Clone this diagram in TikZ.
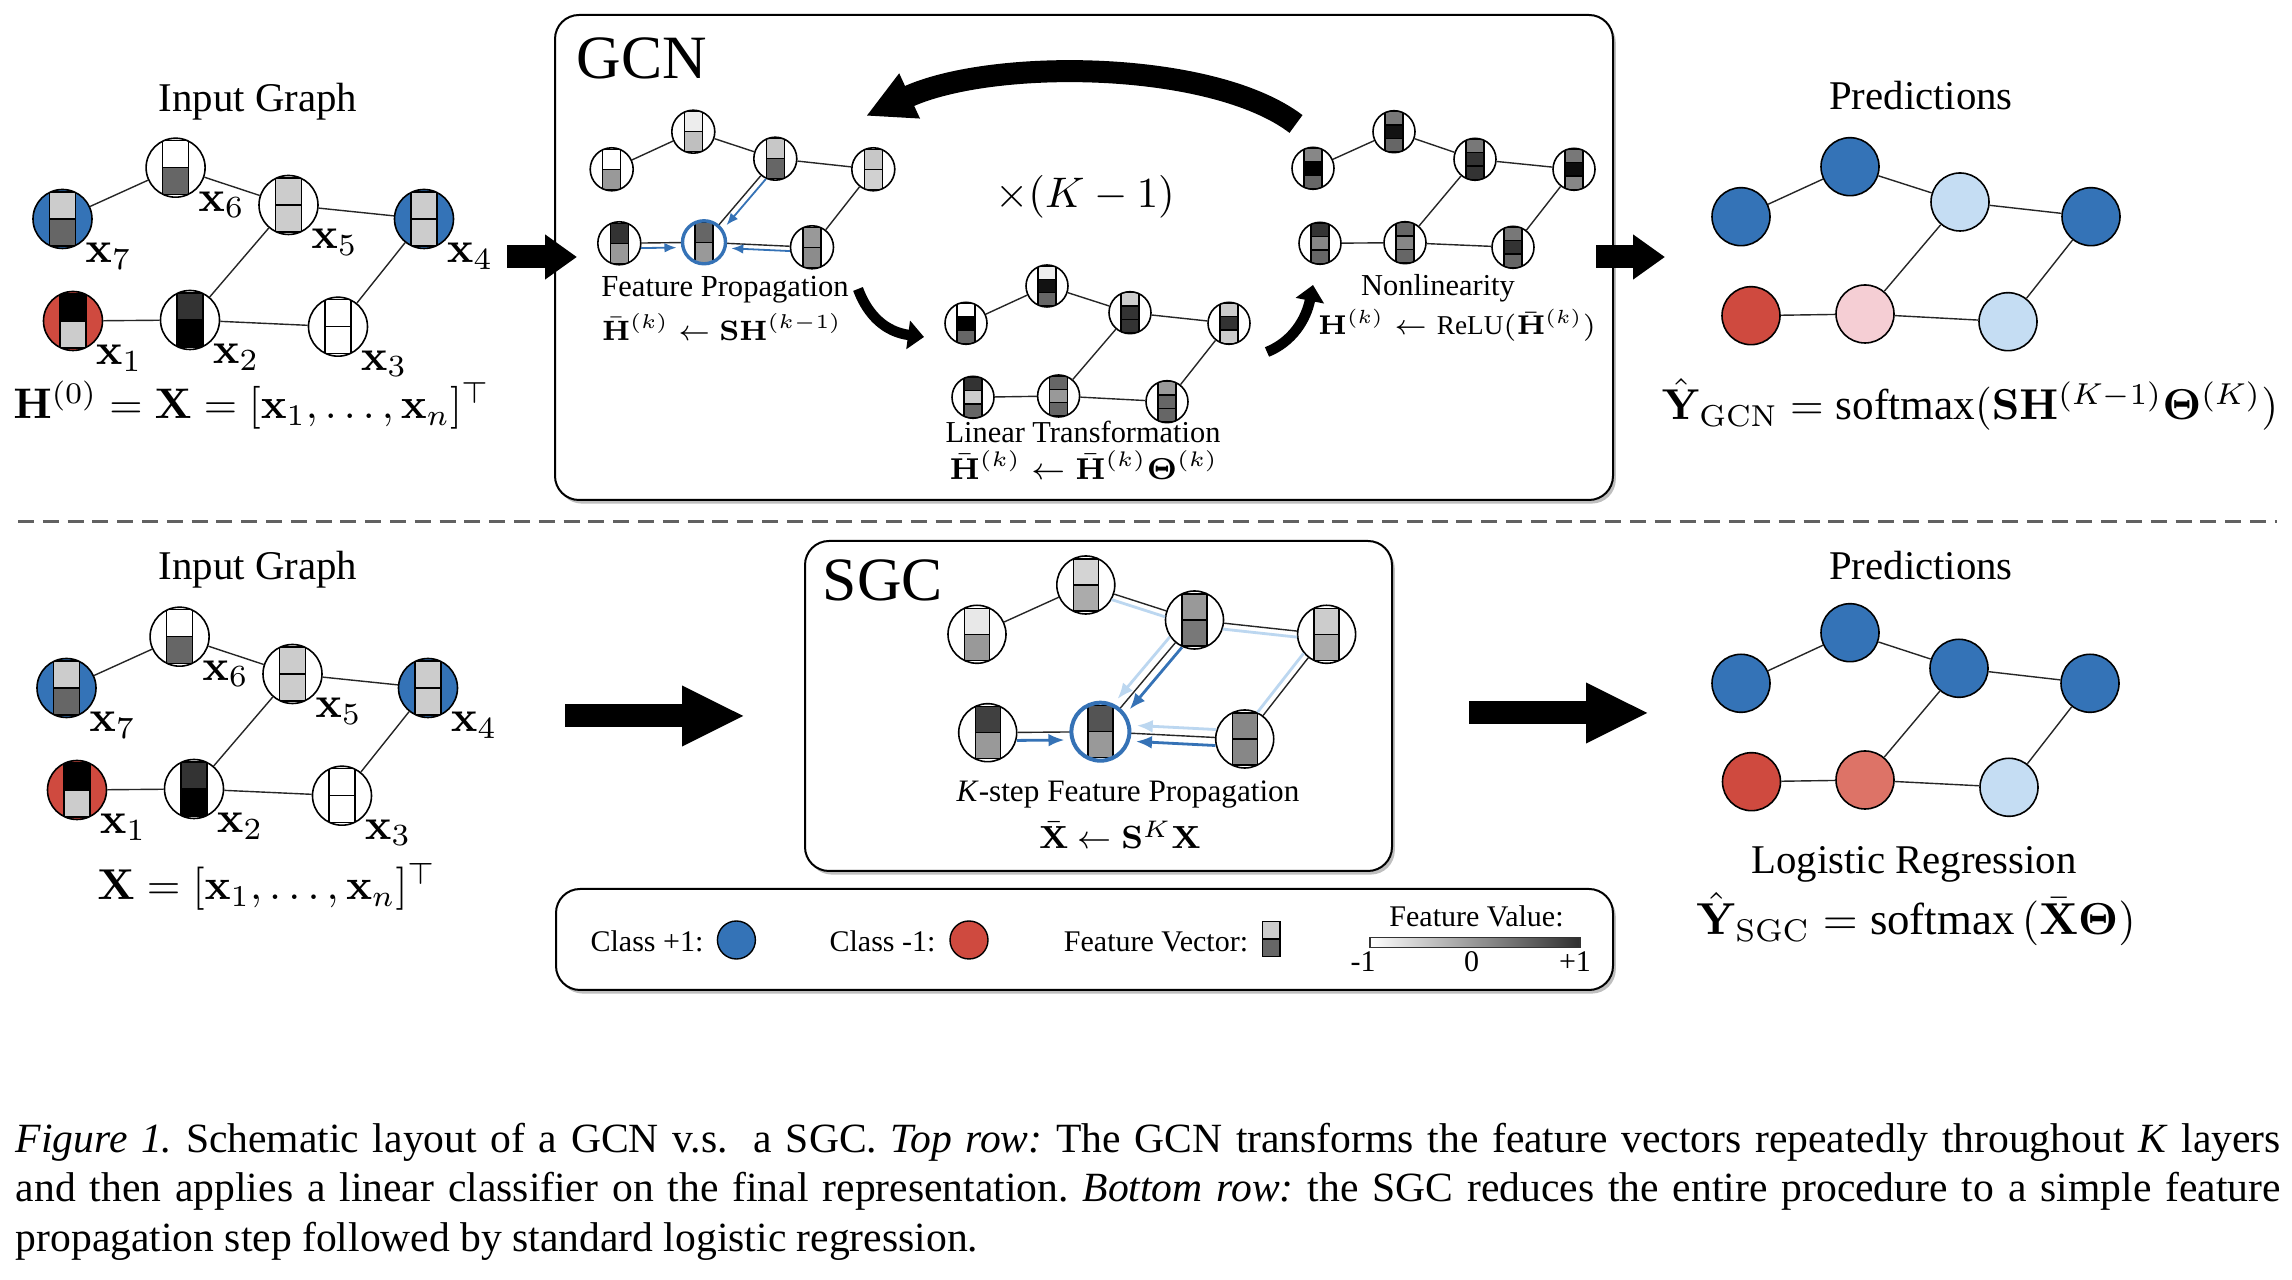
\RequirePackage{fix-cm}
\documentclass[tikz,border=0pt]{standalone}
\usepackage[no-math]{fontspec}
\setmainfont{Liberation Serif}
\usetikzlibrary{calc,arrows.meta,shadows}

\definecolor{cblue}{RGB}{52,115,183}
\definecolor{cred}{RGB}{207,74,63}
\definecolor{clblue}{RGB}{197,221,243}
\definecolor{cpink}{RGB}{245,206,212}
\definecolor{csalmon}{RGB}{221,115,103}
\definecolor{ablue}{RGB}{53,114,182}
\definecolor{alblue}{RGB}{188,215,240}

% feature node: #1 name, #2 x, #3 y, #4 radius(px), #5 fill, #6 bar w, #7 bar h, #8 cell colours
\newcommand\fnode[8]{%
  \pgfmathsetlengthmacro\fdiam{0.5*(#4)}%
  \node[circle,inner sep=0pt,minimum size=\fdiam,fill=#5] (#1) at (#2,#3) {};
  \begin{scope}
    \clip (#2,#3) circle[radius=#4];
    \foreach \cc [count=\ii] in {#8} {\xdef\ncell{\ii}}
    \foreach \cc [count=\ii] in {#8} {
      \filldraw[fill=\cc,draw=black,line width=0.35pt]
        ({#2-#6/2},{#3-#7/2+(\ii-1)*#7/\ncell}) rectangle ({#2+#6/2},{#3-#7/2+\ii*#7/\ncell});
    }
  \end{scope}
  \draw[line width=0.4pt] (#2,#3) circle[radius=#4];
}

\newcommand\ingraph[3]{%
  \fnode{#1x7}{62.5+#2}{219+#3}{29.5}{cblue}{26}{54}{black!20,black!60}
  \fnode{#1x6}{175.6+#2}{167.7+#3}{29.5}{white}{26}{54}{white,black!60}
  \fnode{#1x5}{288.5+#2}{205+#3}{29.5}{white}{26}{54}{black!20,black!20}
  \fnode{#1x4}{424+#2}{219+#3}{29.5}{cblue}{26}{54}{black!20,black!20}
  \fnode{#1x1}{73+#2}{321+#3}{29.5}{cred}{26}{54}{black,black!20}
  \fnode{#1x2}{190+#2}{320+#3}{29.5}{white}{26}{54}{black!80,black}
  \fnode{#1x3}{338+#2}{326.7+#3}{29.5}{white}{26}{54}{white,white}
  \draw[gedge] (#1x7)--(#1x6) (#1x6)--(#1x5) (#1x5)--(#1x4) (#1x5)--(#1x2)
              (#1x4)--(#1x3) (#1x1)--(#1x2) (#1x2)--(#1x3);
  \foreach \k in {1,...,7} {\node[xlbl] (#1l\k) at ($(#1x\k)+(46,37)$) {$\mathbf{x}_{\k}$};}
}

\begin{document}
\begin{tikzpicture}[x=0.25pt,y=-0.25pt,
  gedge/.style={line width=0.35pt,draw=black!85},
  pcirc/.style={circle,inner sep=0pt,minimum size=14.5pt,draw=black,line width=0.4pt},
  legc/.style={circle,inner sep=0pt,minimum size=9.5pt,draw=black,line width=0.35pt},
  xlbl/.style={font=\fontsize{11}{13}\selectfont,inner sep=0pt},
  ttl/.style={font=\fontsize{10.2}{12}\selectfont,inner sep=0pt,anchor=base},
  bigm/.style={font=\fontsize{10.8}{13}\selectfont,inner sep=0pt,anchor=base},
  hdr/.style={font=\fontsize{15.4}{18}\selectfont,inner sep=0pt,anchor=base west},
  fpt/.style={font=\fontsize{7.65}{9}\selectfont,inner sep=0pt,anchor=base},
  smt/.style={font=\fontsize{7.6}{9}\selectfont,inner sep=0pt,anchor=base},
  smm/.style={font=\fontsize{8}{10}\selectfont,inner sep=0pt,anchor=base},
  legt/.style={font=\fontsize{7.5}{9}\selectfont,inner sep=0pt,anchor=base},
  captxt/.style={font=\fontsize{10.4}{12}\selectfont\frenchspacing,inner sep=0pt,anchor=base west},
  panel/.style={draw=black,line width=0.5pt,fill=white,rounded corners=6pt,
    drop shadow={shadow xshift=0.7pt,shadow yshift=-0.9pt,opacity=0.25,fill=black}},
  barrow/.style={draw=ablue,line width=0.45pt,-{Latex[length=3pt,width=2.4pt]}},
  sarrow/.style={draw=ablue,line width=0.7pt,-{Latex[length=4pt,width=3.2pt]}},
  larrow/.style={draw=alblue,line width=0.7pt,-{Latex[length=4pt,width=3.2pt]}},
  lline/.style={draw=alblue,line width=0.7pt},
  bigarr/.style={line width=5.75pt,-{Triangle[length=8pt,width=10.75pt]}},
  bigarrb/.style={line width=5.75pt,-{Triangle[length=15.75pt,width=14pt]}},
  curv/.style={line width=2.6pt,-{Triangle[length=4pt,width=7pt]}}
]
\useasboundingbox (0,0) rectangle (2292,1280);
\fill[white] (0,0) rectangle (2292,1280);

% panels
\draw[panel] (555,15) rectangle (1613,500);
\draw[panel] (805,541) rectangle (1392,871);
\draw[panel] (556,889) rectangle (1613,990);

% separator
\draw[black!62,line width=0.6pt,dash pattern=on 4pt off 2.2pt] (18,521.5) -- (2277,521.5);

% ---------------- input graphs
\node[ttl] (tin1) at (258,111.7) {Input Graph};
\ingraph{u}{0}{0}
\node[bigm,font=\fontsize{10.7}{13}\selectfont] (eqH) at (252,419) {$\mathbf{H}^{(0)}=\mathbf{X}=[\mathbf{x}_1,\ldots,\mathbf{x}_n]^\top$};

\node[ttl] (tin2) at (258,580) {Input Graph};
\ingraph{d}{4}{469}
\node[bigm] (eqX) at (267,900) {$\mathbf{X}=[\mathbf{x}_1,\ldots,\mathbf{x}_n]^\top$};

% ---------------- GCN panel
\node[hdr] (tgcn) at (576,78.3) {GCN};

% feature propagation graph
\fnode{fA}{611.7}{169.3}{21.5}{white}{18}{40}{white,black!40}
\fnode{fB}{693.3}{131.7}{21.5}{white}{18}{40}{black!7,black!25}
\fnode{fC}{775.3}{158.7}{21.5}{white}{18}{40}{black!22,black!60}
\fnode{fD}{873.3}{169.3}{21.5}{white}{18}{40}{black!22,black!18}
\fnode{fE}{619.3}{243.3}{21.5}{white}{18}{40}{black!80,black!40}
\fnode{fF}{704}{242.3}{21.5}{white}{18}{40}{black!60,black!40}
\fnode{fG}{812}{247.3}{21.5}{white}{18}{40}{black!40,black!45}
\draw[gedge] (fA)--(fB) (fB)--(fC) (fC)--(fD) (fC)--(fF) (fD)--(fG) (fE)--(fF) (fF)--(fG);
\draw[ablue,line width=0.85pt] (fF.center) circle[radius=21.5];
\draw[barrow] ($(fE)!5.4pt!(fF)!1.25pt!-90:(fF)$) -- ($(fF)!6.9pt!(fE)!1.25pt!90:(fE)$);
\draw[barrow] ($(fG)!5.4pt!(fF)!1.2pt!90:(fF)$) -- ($(fF)!6.9pt!(fG)!1.2pt!-90:(fG)$);
\draw[barrow] ($(fC)!5.4pt!(fF)!1.5pt!90:(fF)$) -- ($(fF)!6.9pt!(fC)!1.5pt!-90:(fC)$);
\node[fpt] (tfp) at (725,297) {Feature Propagation};
\node[fpt,font=\fontsize{7}{9}\selectfont] (efp) at (722,341) {$\bar{\mathbf{H}}^{(k)}\leftarrow\mathbf{S}\mathbf{H}^{(k-1)}$};

% linear transformation graph
\fnode{lA}{966}{323.3}{21}{white}{18}{40}{white,black,black!60}
\fnode{lB}{1047}{286}{21}{white}{18}{40}{black!7,black!93,black!60}
\fnode{lC}{1130}{312.7}{21}{white}{18}{40}{black!20,black!80,black!80}
\fnode{lD}{1229}{323.3}{21}{white}{18}{40}{black!20,black!80,black!20}
\fnode{lE}{973}{397.3}{21}{white}{18}{40}{black!80,black!20,black!60}
\fnode{lF}{1058.6}{396}{21}{white}{18}{40}{black!60,black!40,black!60}
\fnode{lG}{1167}{401.7}{21}{white}{18}{40}{black!40,black!60,black!60}
\draw[gedge] (lA)--(lB) (lB)--(lC) (lC)--(lD) (lC)--(lF) (lD)--(lG) (lE)--(lF) (lF)--(lG);
\node[smt] (tlt) at (1083,443) {Linear Transformation};
\node[smm,font=\fontsize{7.55}{9}\selectfont] (elt) at (1084,479.5) {$\bar{\mathbf{H}}^{(k)}\leftarrow\bar{\mathbf{H}}^{(k)}\mathbf{\Theta}^{(k)}$};

% nonlinearity graph
\fnode{nA}{1313}{168.3}{21}{white}{18}{40}{black!47,black,black!60}
\fnode{nB}{1394}{131.7}{21}{white}{18}{40}{black!53,black!93,black!60}
\fnode{nC}{1475}{159.3}{21}{white}{18}{40}{black!53,black!80,black!80}
\fnode{nD}{1574}{169.3}{21}{white}{18}{40}{black!53,black!95,black!47}
\fnode{nE}{1320}{243.3}{21}{white}{18}{40}{black!80,black!47,black!60}
\fnode{nF}{1405}{242.7}{21}{white}{18}{40}{black!60,black!47,black!60}
\fnode{nG}{1513}{247.3}{21}{white}{18}{40}{black!53,black!80,black!60}
\draw[gedge] (nA)--(nB) (nB)--(nC) (nC)--(nD) (nC)--(nF) (nD)--(nG) (nE)--(nF) (nF)--(nG);
\node[smt] (tnl) at (1438,295.5) {Nonlinearity};
\node[smt,font=\fontsize{6.8}{8}\selectfont] (enl) at (1457,335) {$\mathbf{H}^{(k)}\leftarrow\textrm{ReLU}(\bar{\mathbf{H}}^{(k)})$};

\node[font=\fontsize{10.7}{13}\selectfont,inner sep=0pt] (tk) at (1085,197) {$\times(K-1)$};

% curved arrows
\coordinate (arcS) at (1296,124);
\coordinate (arcE) at (866,116);
\draw[line width=5.5pt,-{Triangle[length=12pt,width=11.5pt]}] (arcS) .. controls (1212,60) and (992,58) .. (arcE);
\coordinate (c1s) at (858,289);
\coordinate (c1e) at (924,337);
\draw[curv] (c1s) .. controls (868,316) and (886,332) .. (c1e);
\coordinate (c2s) at (1267,352);
\coordinate (c2e) at (1313,285);
\draw[curv] (c2s) .. controls (1292,342) and (1306,320) .. (c2e);

% straight arrows top
\coordinate (a1s) at (507,257);
\coordinate (a1e) at (577,257);
\draw[bigarr] (a1s) -- (a1e);
\coordinate (a2s) at (1596,257);
\coordinate (a2e) at (1665,257);
\draw[bigarr] (a2s) -- (a2e);

% ---------------- GCN predictions
\node[ttl] (tpr1) at (1921,110) {Predictions};
\node[pcirc,fill=cblue] (pA) at (1741,216.7) {};
\node[pcirc,fill=cblue] (pB) at (1850,166.7) {};
\node[pcirc,fill=clblue] (pC) at (1960,202) {};
\node[pcirc,fill=cblue] (pD) at (2091,216.7) {};
\node[pcirc,fill=cred] (pE) at (1751,315.7) {};
\node[pcirc,fill=cpink] (pF) at (1865,314) {};
\node[pcirc,fill=clblue] (pG) at (2008,321.7) {};
\draw[gedge] (pA)--(pB) (pB)--(pC) (pC)--(pD) (pC)--(pF) (pD)--(pG) (pE)--(pF) (pF)--(pG);
\node[bigm] (eqg) at (1970,420) {$\hat{\mathbf{Y}}_{\mathrm{GCN}}=\textrm{softmax}(\mathbf{S}\mathbf{H}^{(K-1)}\mathbf{\Theta}^{(K)})$};

% ---------------- SGC panel
\node[hdr] (tsgc) at (822,600.7) {SGC};
\fnode{sA}{977}{634.3}{29}{white}{25}{52}{black!9,black!40}
\fnode{sB}{1085.8}{585}{29}{white}{25}{52}{black!17,black!33}
\fnode{sC}{1194.5}{620}{29}{white}{25}{52}{black!40,black!53}
\fnode{sD}{1326.6}{634.3}{29}{white}{25}{52}{black!20,black!33}
\fnode{sE}{987.7}{732.7}{29}{white}{25}{52}{black!75,black!40}
\fnode{sF}{1100.4}{731.7}{29}{white}{25}{52}{black!67,black!40}
\fnode{sG}{1244.7}{739}{29}{white}{25}{52}{black!47,black!47}
\draw[gedge] (sA)--(sB) (sB)--(sC) (sC)--(sD) (sC)--(sF) (sD)--(sG) (sE)--(sF) (sF)--(sG);
\draw[ablue,line width=1pt] (sF.center) circle[radius=29];
% light (2-hop) paths
\draw[lline] ($(sB)!7.25pt!(sC)!1.5pt!-90:(sC)$) -- ($(sC)!7.25pt!(sB)!1.5pt!90:(sB)$);
\draw[lline] ($(sC)!7.25pt!(sD)!1.5pt!-90:(sD)$) -- ($(sD)!7.25pt!(sC)!1.5pt!90:(sC)$);
\draw[lline] ($(sD)!7.25pt!(sG)!1.6pt!-90:(sG)$) -- ($(sG)!7.25pt!(sD)!1.6pt!90:(sD)$);
\draw[larrow] ($(sC)!7.25pt!(sF)!2pt!-90:(sF)$) -- ($(sF)!9pt!(sC)!2pt!90:(sC)$);
\draw[larrow] ($(sG)!7.25pt!(sF)!2pt!-90:(sF)$) -- ($(sF)!9pt!(sG)!2pt!90:(sG)$);
% direct paths
\draw[sarrow] ($(sC)!7.25pt!(sF)!2pt!90:(sF)$) -- ($(sF)!9pt!(sC)!2pt!-90:(sC)$);
\draw[sarrow] ($(sE)!7.25pt!(sF)!2pt!-90:(sF)$) -- ($(sF)!9pt!(sE)!2pt!90:(sE)$);
\draw[sarrow] ($(sG)!7.25pt!(sF)!2pt!90:(sF)$) -- ($(sF)!9pt!(sG)!2pt!-90:(sG)$);
\node[smm,font=\fontsize{7.8}{10}\selectfont] (tsk) at (1128,802) {\textit{K}-step Feature Propagation};
\node[smm] (esk) at (1120,849) {$\bar{\mathbf{X}}\leftarrow\mathbf{S}^{K}\mathbf{X}$};

% straight arrows bottom
\coordinate (a3s) at (565,716);
\coordinate (a3e) at (745,716);
\draw[bigarrb] (a3s) -- (a3e);
\coordinate (a4s) at (1469,713);
\coordinate (a4e) at (1649,713);
\draw[bigarrb] (a4s) -- (a4e);

% ---------------- SGC predictions
\node[ttl] (tpr2) at (1921,580) {Predictions};
\node[pcirc,fill=cblue] (qA) at (1741,683.3) {};
\node[pcirc,fill=cblue] (qB) at (1850,632.7) {};
\node[pcirc,fill=cblue] (qC) at (1959,668.3) {};
\node[pcirc,fill=cblue] (qD) at (2090,683.3) {};
\node[pcirc,fill=cred] (qE) at (1751.5,781.7) {};
\node[pcirc,fill=csalmon] (qF) at (1865,780) {};
\node[pcirc,fill=clblue] (qG) at (2009,787.3) {};
\draw[gedge] (qA)--(qB) (qB)--(qC) (qC)--(qD) (qC)--(qF) (qD)--(qG) (qE)--(qF) (qF)--(qG);
\node[ttl] (tlr) at (1914,873.3) {Logistic Regression};
\node[bigm,font=\fontsize{11.2}{13}\selectfont] (eqs) at (1916,935) {$\hat{\mathbf{Y}}_{\mathrm{SGC}}=\textrm{softmax}\,\bigl(\bar{\mathbf{X}}\mathbf{\Theta}\bigr)$};

% ---------------- legend
\node[legt] (lc1) at (647,951.7) {Class +1:};
\node[legc,fill=cblue] (lb) at (736.4,940) {};
\node[legt] (lc2) at (882.5,951.7) {Class -1:};
\node[legc,fill=cred] (lr) at (969,940) {};
\node[legt] (lfv) at (1156,951.7) {Feature Vector:};
\filldraw[fill=black!20,draw=black,line width=0.35pt] (1262.5,921.7) rectangle (1280,939.2);
\filldraw[fill=black!60,draw=black,line width=0.35pt] (1262.5,939.2) rectangle (1280,956.7);
\node[legt] (lfval) at (1476.5,926.7) {Feature Value:};
\draw[left color=white,right color=black!82,draw=black!80,line width=0.3pt] (1370,937.7) rectangle (1580,947.7);
\node[legt] (lm1) at (1363,971.7) {-1};
\node[legt] (l0) at (1471.6,971.7) {0};
\node[legt] (lp1) at (1575,971.7) {+1};

% ---------------- caption
\node[captxt] (cap1) at (15,1153) {\makebox[566.25pt][s]{\textit{Figure 1.} Schematic layout of a GCN v.s.\hspace{0.3em} a SGC. \textit{Top row:} The GCN transforms the feature vectors repeatedly throughout \textit{K} layers}};
\node[captxt] (cap2) at (15,1202) {\makebox[566.25pt][s]{and then applies a linear classifier on the final representation. \textit{Bottom row:} the SGC reduces the entire procedure to a simple feature}};
\node[captxt] (cap3) at (15,1252) {propagation step followed by standard logistic regression.};
\end{tikzpicture}
\end{document}
